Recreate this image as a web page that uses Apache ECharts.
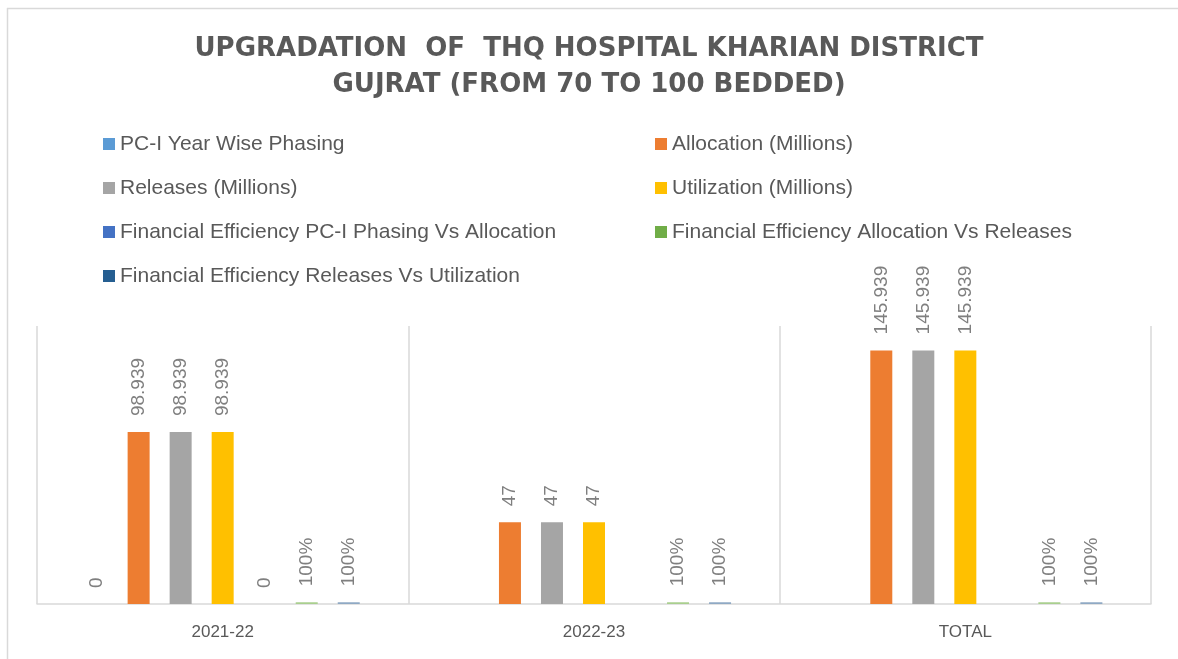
<!DOCTYPE html>
<html>
<head>
<meta charset="utf-8">
<script src="https://cdn.jsdelivr.net/npm/echarts@6/dist/echarts.min.js"></script>
<style>
  html, body { margin: 0; padding: 0; background: #fff; }
  #chart { width: 1178px; height: 659px; }
</style>
</head>
<body>
<div id="chart"></div>
<script>
  // categories and series values (millions / ratios)
  const categories = ['2021-22', '2022-23', 'TOTAL']
  const pcPhasing = [0, null, null]
  const allocation = [98.939, 47, 145.939]
  const releases = [98.939, 47, 145.939]
  const utilization = [98.939, 47, 145.939]
  const fePhasingAlloc = [0, null, null]
  const feAllocRel = [1, 1, 1]
  const feRelUtil = [1, 1, 1]

  const names = [
    'PC-I Year Wise Phasing',
    'Allocation (Millions)',
    'Releases (Millions)',
    'Utilization (Millions)',
    'Financial Efficiency PC-I Phasing Vs Allocation',
    'Financial Efficiency Allocation Vs Releases',
    'Financial Efficiency Releases Vs Utilization'
  ]
  const colors = ['#5b9bd5', '#ed7d31', '#a5a5a5', '#ffc000', '#4472c4', '#70ad47', '#255e91']
  const barColors = ['#5b9bd5', '#ed7d31', '#a5a5a5', '#ffc000', '#4472c4', '#a9cf8e', '#8fa9c4']
  const values = [pcPhasing, allocation, releases, utilization, fePhasingAlloc, feAllocRel, feRelUtil]
  const isRatio = [false, false, false, false, true, true, true]

  const chart = echarts.init(document.getElementById('chart'))

  const series = values.map((data, i) => ({
    name: names[i],
    type: 'bar',
    data: data,
    barWidth: 22,
    barGap: '91%',
    itemStyle: { color: barColors[i] },
    label: {
      show: true,
      position: 'top',
      rotate: 90,
      align: 'left',
      verticalAlign: 'middle',
      distance: 16,
      color: '#7f7f7f',
      fontFamily: 'Liberation Sans',
      fontSize: 19,
      formatter: (p) => {
        if (p.value == null) return ''
        if (isRatio[i] && p.value !== 0) return Math.round(p.value * 100) + '%'
        return String(p.value)
      }
    }
  }))

  const legendItem = (i) => ({ name: names[i], itemStyle: { color: colors[i] } })
  const legendBase = {
    orient: 'vertical',
    top: 128,
    icon: 'rect',
    itemWidth: 12,
    itemHeight: 12,
    itemGap: 22,
    textStyle: { color: '#595959', fontSize: 21, lineHeight: 22, fontFamily: 'Liberation Sans' }
  }

  chart.setOption({
    animation: false,
    title: {
      text: 'UPGRADATION  OF  THQ HOSPITAL KHARIAN DISTRICT\nGUJRAT (FROM 70 TO 100 BEDDED)',
      left: 'center',
      top: 26,
      textStyle: {
        color: '#595959',
        fontSize: 26,
        fontWeight: 'bold',
        fontFamily: 'DejaVu Sans',
        lineHeight: 36
      }
    },
    legend: [
      Object.assign({ left: 98, data: [0, 2, 4, 6].map(legendItem) }, legendBase),
      Object.assign({ left: 650, data: [1, 3, 5].map(legendItem) }, legendBase)
    ],
    grid: { left: 37, right: 27, top: 326, bottom: 55 },
    xAxis: {
      type: 'category',
      data: categories,
      axisLine: { lineStyle: { color: '#d9d9d9', width: 1.5 } },
      axisTick: { show: false },
      splitLine: { show: true, lineStyle: { color: '#d9d9d9', width: 1.5 } },
      axisLabel: { color: '#595959', fontSize: 17, margin: 20, fontFamily: 'Liberation Sans' }
    },
    yAxis: {
      type: 'value',
      min: 0,
      max: 160,
      show: false,
      splitLine: { show: false }
    },
    graphic: [
      { type: 'line', shape: { x1: 7, y1: 8.5, x2: 1178, y2: 8.5 }, style: { stroke: '#d9d9d9', lineWidth: 1.5 } },
      { type: 'line', shape: { x1: 7.5, y1: 8, x2: 7.5, y2: 659 }, style: { stroke: '#d9d9d9', lineWidth: 1.5 } }
    ],
    series: series
  })
</script>
</body>
</html>
